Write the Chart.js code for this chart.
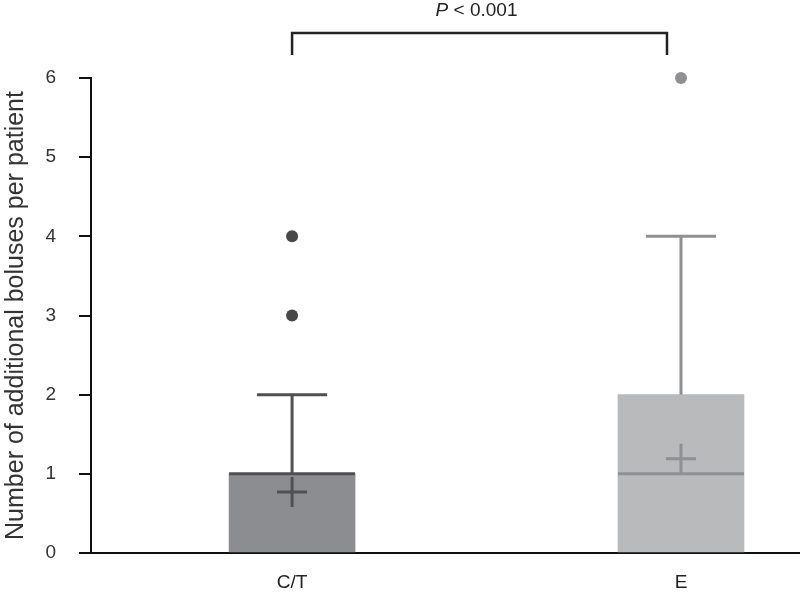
<!DOCTYPE html>
<html lang="en">
<head>
<meta charset="UTF-8">
<title>Additional boluses per patient</title>
<script src="https://cdn.jsdelivr.net/npm/chart.js"></script>
<style>
  body { margin: 0; background: #fff; }
  #wrap { width: 800px; height: 594px; }
</style>
</head>
<body>
<div id="wrap"><canvas id="myChart"></canvas></div>
<script>
    // groups and box plot values
    const groups    = ["C/T", "E"];
    const boxTop    = [1, 2];      // upper quartile (box drawn from 0)
    const medians   = [1, 1];
    const whiskerHi = [2, 4];
    const means     = [0.77, 1.19];
    const outliers  = [[3, 4], [6]];
    const yTicks    = [0, 1, 2, 3, 4, 5, 6];
    const pLabel    = "< 0.001";

    const boxColor  = ["#8c8d91", "#b9babc"];
    const lineColor = ["#505053", "#8f9093"];
    const dotColor  = ["#48484a", "#8f9093"];
    const fontFam   = "'Liberation Sans', Arial, sans-serif";

    const pts = (vals) => vals.map((v, i) => ({ x: i, y: v }));

    const datasets = [];
    // mean crosses
    datasets.push({
        type: "scatter", data: pts(means), pointStyle: "cross",
        pointRadius: 15, borderWidth: 3, borderColor: lineColor, clip: false
    });
    // median lines
    datasets.push({
        type: "scatter", data: pts(medians), pointStyle: "line",
        pointRadius: 63, borderWidth: 3, borderColor: lineColor, clip: false
    });
    // whisker caps
    datasets.push({
        type: "scatter", data: pts(whiskerHi), pointStyle: "line",
        pointRadius: 35, borderWidth: 3, borderColor: lineColor, clip: false
    });
    // whisker stems, one per group
    groups.forEach((g, i) => {
        datasets.push({
            type: "line", data: [{ x: i, y: boxTop[i] }, { x: i, y: whiskerHi[i] }],
            borderColor: lineColor[i], borderWidth: 3, pointRadius: 0, clip: false
        });
    });
    // outlier dots
    groups.forEach((g, i) => {
        datasets.push({
            type: "scatter", data: outliers[i].map(v => ({ x: i, y: v })),
            pointRadius: 6, backgroundColor: dotColor[i], borderWidth: 0, clip: false
        });
    });
    // boxes
    datasets.push({
        type: "bar", data: pts(boxTop), backgroundColor: boxColor,
        barThickness: 126, borderWidth: 0, order: 10
    });

    // bracket with P value over the two groups
    const bracketPlugin = {
        id: "bracket",
        afterDraw(chart) {
            const c = chart.ctx;
            const xs = chart.scales.x;
            const x1 = xs.getPixelForValue(0);
            const x2 = xs.getPixelForValue(1) - 14;
            c.save();
            c.strokeStyle = "#222";
            c.lineWidth = 2.5;
            c.beginPath();
            c.moveTo(x1, 55); c.lineTo(x1, 33); c.lineTo(x2, 33); c.lineTo(x2, 55);
            c.stroke();
            c.fillStyle = "#222";
            c.textBaseline = "middle";
            c.font = "italic 19px " + fontFam;
            const wP = c.measureText("P ").width;
            c.font = "19px " + fontFam;
            const wR = c.measureText(pLabel).width;
            const start = (x1 + x2) / 2 - 3 - (wP + wR) / 2;
            c.textAlign = "left";
            c.font = "italic 19px " + fontFam;
            c.fillText("P ", start, 11);
            c.font = "19px " + fontFam;
            c.fillText(pLabel, start + wP, 11);
            c.restore();
        }
    };

    const ctx = document.querySelector("#myChart");
    const bolusChart = new Chart(ctx, {
        type: "bar",
        data: { datasets: datasets },
        plugins: [bracketPlugin],
        options: {
            responsive: true,
            maintainAspectRatio: false,
            animation: false,
            layout: { autoPadding: false, padding: { top: 78, right: 0, left: 0, bottom: 0 } },
            plugins: { legend: { display: false }, tooltip: { enabled: false } },
            scales: {
                x: {
                    type: "linear", min: -0.517, max: 1.306, offset: false,
                    afterBuildTicks: (s) => { s.ticks = groups.map((g, i) => ({ value: i })); },
                    afterFit: (s) => { s.height = 41; },
                    ticks: {
                        callback: (v) => groups[v] ?? "",
                        color: "#222", font: { family: fontFam, size: 19 },
                        padding: 18
                    },
                    grid: { display: false, drawTicks: false, offset: false },
                    border: { color: "#111", width: 2 }
                },
                y: {
                    min: 0, max: 6,
                    afterBuildTicks: (s) => { s.ticks = yTicks.map(v => ({ value: v })); },
                    afterFit: (s) => { s.width = 91; },
                    ticks: {
                        color: "#333", font: { family: fontFam, size: 19 },
                        padding: 23
                    },
                    grid: { drawOnChartArea: false, tickLength: 12, color: "#111", lineWidth: 2 },
                    border: { color: "#111", width: 2 },
                    title: {
                        display: true, text: "Number of additional boluses per patient",
                        color: "#333", font: { family: fontFam, size: 25 },
                        padding: { top: 1, bottom: 0 }
                    }
                }
            }
        }
    });
</script>
</body>
</html>
